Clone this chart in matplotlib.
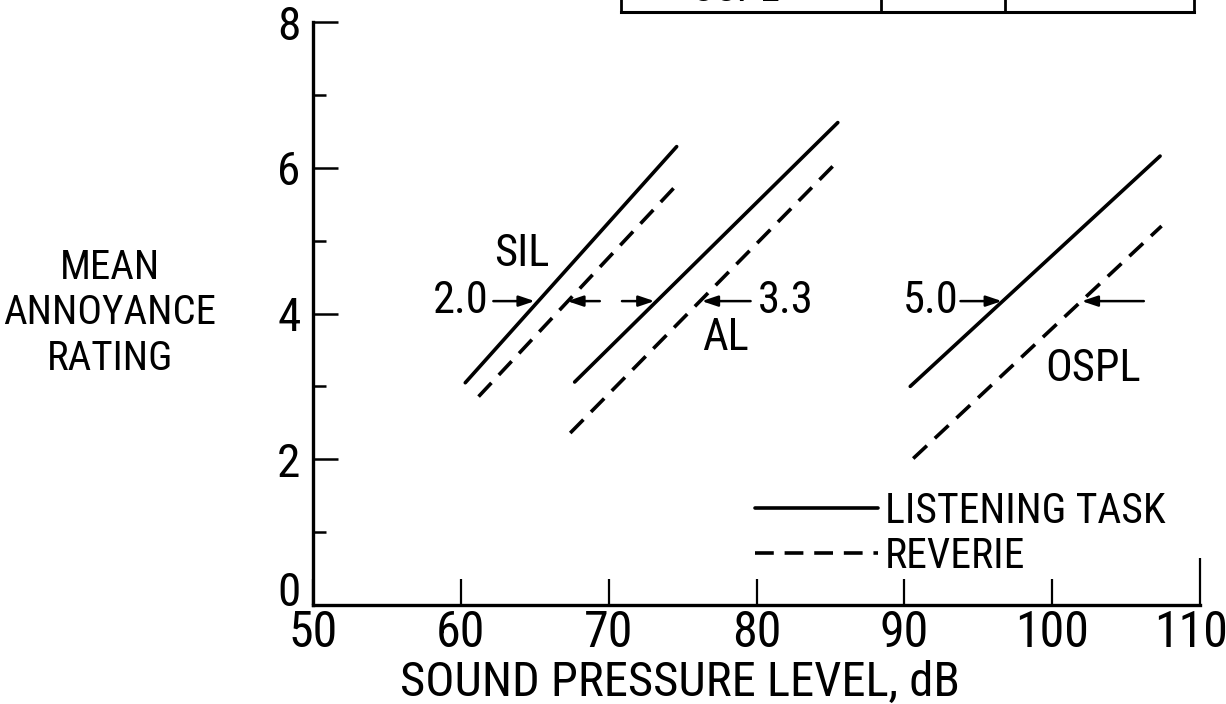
import matplotlib
matplotlib.use("Agg")
import matplotlib.pyplot as plt
import matplotlib.transforms as mtransforms
from matplotlib import font_manager
from matplotlib.lines import Line2D

# ---------------- data ----------------
categories = ["SIL", "AL", "OSPL"]
listening_x = [[60.3, 74.6], [67.7, 85.5], [90.4, 107.3]]
listening_y = [[3.05, 6.29], [3.06, 6.62], [3.00, 6.16]]
reverie_x = [[61.2, 74.4], [67.4, 85.4], [90.6, 107.4]]
reverie_y = [[2.86, 5.72], [2.36, 6.07], [2.01, 5.20]]

category_label_x = [64.1, 77.9, 102.8]
category_label_y = [4.81, 3.66, 3.24]

difference_labels = ["2.0", "3.3", "5.0"]
difference_label_x = [60.0, 82.0, 91.8]
arrow_level = 4.17
arrow_from = [62.2, 69.4, 70.9, 79.6, 93.8, 106.2]
arrow_to = [65.0, 67.2, 73.1, 76.3, 96.6, 102.0]

xticks = [50, 60, 70, 80, 90, 100, 110]
yticks = [0, 2, 4, 6, 8]
yticks_minor = [1, 3, 5, 7]
series_names = ["LISTENING TASK", "REVERIE"]

# ---------------- fonts ----------------
names = {f.name for f in font_manager.fontManager.ttflist}
NARROW = "DejaVu Sans"
for cand in ["Roboto Condensed", "Asap Condensed", "Archivo Narrow",
             "Liberation Sans Narrow"]:
    if cand in names:
        NARROW = cand
        break
k = 1.0 if NARROW != "DejaVu Sans" else 0.8   # size factor for a wide fallback
plt.rcParams["font.family"] = [NARROW, "DejaVu Sans"]

W, H = 1226, 704
fig = plt.figure(figsize=(W / 100, H / 100), dpi=100)
left, right, bottom, top = 313, 1200, 605, 22
ax = fig.add_axes([left / W, 1 - bottom / H, (right - left) / W, (bottom - top) / H])

LW = 2.6
dash = (0, (5.2, 3.0))
for i in range(len(categories)):
    ax.plot(listening_x[i], listening_y[i], color="black", lw=LW,
            solid_capstyle="round", label=series_names[0] if i == 0 else None)
    ax.plot(reverie_x[i], reverie_y[i], color="black", lw=LW, linestyle=dash,
            dash_capstyle="butt", label=series_names[1] if i == 0 else None)
    ax.text(category_label_x[i], category_label_y[i], categories[i],
            fontsize=32 * k, ha="center", va="center")
    ax.text(difference_label_x[i], arrow_level, difference_labels[i],
            fontsize=32 * k, ha="center", va="center")

for a, b in zip(arrow_from, arrow_to):
    ax.annotate("", xy=(b, arrow_level), xytext=(a, arrow_level),
                arrowprops=dict(arrowstyle="-|>,head_length=0.95,head_width=0.32",
                                color="black", lw=1.8, shrinkA=0, shrinkB=0))

ax.set_xlim(50, 110)
ax.set_ylim(0, 8)
ax.spines["top"].set_visible(False)
ax.spines["right"].set_visible(False)
for s in ("left", "bottom"):
    ax.spines[s].set_linewidth(2.4)

ax.set_xticks(xticks)
ax.set_xticklabels([str(v) for v in xticks])
ax.set_yticks(yticks)
ax.set_yticklabels([str(v) for v in yticks])
ax.set_yticks(yticks_minor, minor=True)
ax.tick_params(axis="x", direction="in", length=19, width=1.6, labelsize=36 * k, pad=3)
ax.tick_params(axis="y", direction="in", length=18, width=1.8, labelsize=34 * k, pad=9)
ax.tick_params(axis="y", which="minor", direction="in", length=9, width=1.8)
# the last x tick is drawn taller
ax.xaxis.get_major_ticks()[-1].tick1line.set_markersize(34)
# the "0" of the y axis sits a little above its tick
ylab0 = ax.get_yticklabels()[0]
ylab0.set_transform(ylab0.get_transform() +
                    mtransforms.ScaledTranslation(0, 16 / 100, fig.dpi_scale_trans))
# "110" sits a little left of its tick
xlab_last = ax.get_xticklabels()[-1]
xlab_last.set_transform(xlab_last.get_transform() +
                        mtransforms.ScaledTranslation(-9 / 100, 0, fig.dpi_scale_trans))

ax.set_xlabel("SOUND PRESSURE LEVEL, dB", fontsize=35 * k)
ax.xaxis.set_label_coords(0.414, -0.134)
ax.xaxis.label.set_va("center")

ax.text(-0.229, 0.501, "MEAN\nANNOYANCE\nRATING", transform=ax.transAxes,
        fontsize=29.5 * k, ha="center", va="center", linespacing=1.2)

leg = ax.legend(loc="upper left", bbox_to_anchor=(0.498, 0.196), frameon=False,
                fontsize=30 * k, handlelength=2.95, handletextpad=0.17,
                labelspacing=0.1, borderpad=0, borderaxespad=0)

# table box cut at the top of the page
ty = 1 - 12 / H
fig.add_artist(Line2D([621 / W, 1194 / W], [ty, ty], color="black", lw=2.2))
for xv in [621, 881, 1005, 1194]:
    fig.add_artist(Line2D([xv / W, xv / W], [ty, 1.01], color="black", lw=2.0))
fig.text(735 / W, 1 - 1 / H, "OSPL", fontsize=30 * k, ha="center", va="baseline")

fig.savefig("out.png", dpi=100)
